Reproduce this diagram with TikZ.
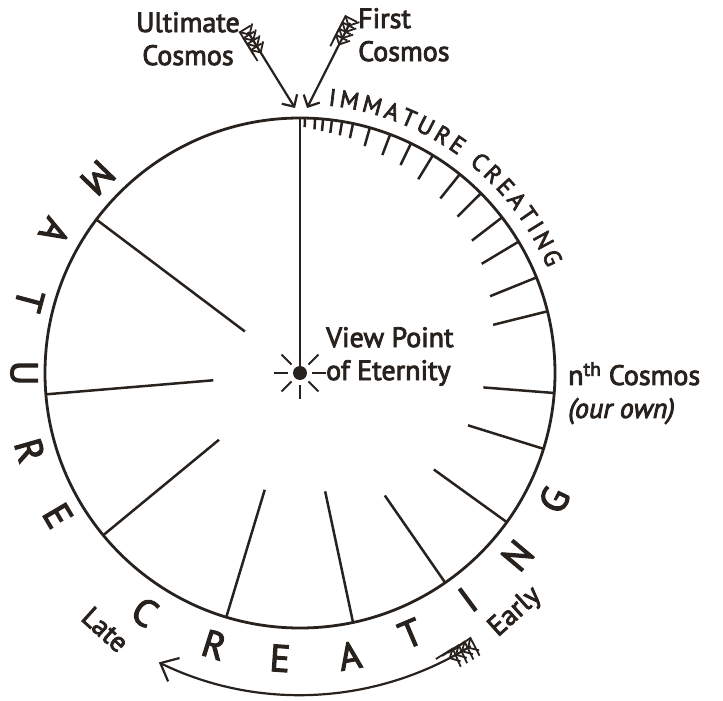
\documentclass[tikz,border=0pt]{standalone}
\usepackage{fontspec}
\setmainfont{PT Sans}[FakeBold=3]
\usepackage{xcolor}
\usetikzlibrary{arrows.meta,decorations.markings,decorations.text}
\definecolor{ink}{RGB}{40,34,30}
\tikzset{
  rim/.style={draw=ink, line width=2.8pt},
  spoke/.style={draw=ink, line width=2.5pt},
  ray/.style={draw=ink, line width=2pt},
  bigch/.style={text=ink, inner sep=0pt, font=\fontsize{38}{40}\selectfont},
  lbl/.style={text=ink, inner sep=0pt, align=center,
    font=\fontsize{28}{33}\selectfont},
  shaft/.style={draw=ink, line width=2.2pt,
    -{Straight Barb[length=9pt,width=18pt]}},
  longshaft/.style={shaft, -{Straight Barb[length=15pt,width=26pt]}},
  fletched/.style={postaction={decorate, decoration={markings,
      mark=between positions 3pt and #1 step 7pt with
      {\draw[ink, line width=1.8pt] (-8pt,8pt) -- (0pt,0pt) -- (-8pt,-8pt);}}}}
}
\newcommand{\immfont}{\fontsize{24}{26}\selectfont\color{ink}}

\begin{document}
\begin{tikzpicture}[x=1pt, y=1pt]
  \useasboundingbox (-300,-328) rectangle (423,373);
  \coordinate (eye) at (0,0);
  \draw[rim] (eye) circle (255);

  % cosmos lines, angle / inner radius
  \foreach \a/\r in {88.9/246, 86.6/244, 84.8/243, 82.8/242, 80.5/241, 78/240,
      74.1/236, 69.3/233, 64.2/231, 58.6/227, 51.2/224, 44.8/222, 37.6/217,
      31/212, 22/205, 14/199, -4.5/184, -17.3/176, -35.8/165, -55.3/149,
      -78/121, -106.8/122, -140.5/105, -175.2/87, 143/69}
    \draw[spoke] (\a:255) -- (\a:\r);
  \draw[spoke] (90:255) -- (eye);
  \fill[ink] (eye) circle (7);
  \foreach \a in {0,45,135,180,225,270,315}
    \draw[ray] (\a:12) -- (\a:26);

  \foreach \a/\ch/\r [count=\i] in {136/M/281, 150/A/283, 165/T/280, 180/U/276,
      196/R/281, 210.5/E/281, 237/C/285, 252.5/R/285, 266/E/286, 280/A/287,
      293/T/283, 306.5/I/282, 320/N/284, 333.5/G/284}
    \node[bigch, rotate=\a+90] (mature\i) at (\a:\r) {\ch};

  \path[decorate, decoration={text along path, text align={fit to path},
      text={|\immfont|IMMATURE CREATING}}]
    (84:269) arc[start angle=84, end angle=23, radius=269];

  \node[lbl, anchor=north] (ultimate) at (-112,361) {Ultimate\\Cosmos};
  \node[lbl, anchor=north west, align=left] (first) at (58,365) {First\\Cosmos};
  \node[lbl, anchor=north west, align=left] (viewpoint) at (26,46)
    {View Point\\of Eternity};
  \node[lbl, anchor=north west, align=left] (nth) at (268,11)
    {n\textsuperscript{th} Cosmos\\{\itshape (our own)}};
  \node[lbl, rotate=-42] (late) at (232.8:322) {Late};
  \node[lbl, rotate=42] (early) at (312:322) {Early};

  \coordinate (ult tail) at (-52,341);
  \coordinate (ult head) at (-5,265);
  \coordinate (first tail) at (50,350);
  \coordinate (first head) at (7,265);
  \coordinate (early tail) at (302:322);

  \draw[shaft, fletched=24pt] (ult tail) -- (ult head);
  \draw[shaft, fletched=24pt] (first tail) -- (first head);
  \draw[longshaft, fletched=30pt] (early tail)
    arc[start angle=302, end angle=244, radius=322];
\end{tikzpicture}
\end{document}
